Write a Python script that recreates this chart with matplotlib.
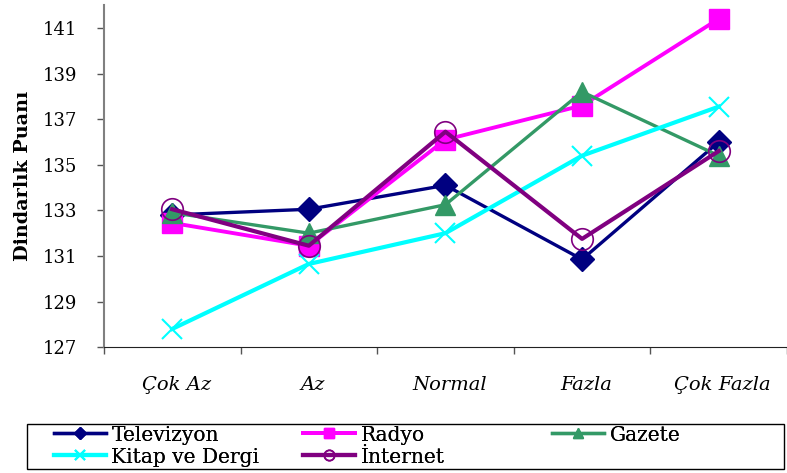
import matplotlib
matplotlib.use("Agg")
import matplotlib.pyplot as plt
from matplotlib.patches import Rectangle
import numpy as np

# Categories and series
categories = ['Çok Az', 'Az', 'Normal', 'Fazla', 'Çok Fazla']
televizyon = [132.8, 133.05, 134.1, 130.85, 136.0]
radyo = [132.45, 131.45, 136.1, 137.6, 141.4]
gazete = [132.9, 132.0, 133.25, 138.2, 135.4]
kitap_dergi = [127.8, 130.65, 132.0, 135.4, 137.55]
internet = [133.05, 131.45, 136.45, 131.75, 135.6]
yticks = [127, 129, 131, 133, 135, 137, 139, 141]

serif = 'DejaVu Serif'
W, H = 787, 473

fig = plt.figure(figsize=(W / 100, H / 100), dpi=100)
ax = fig.add_axes([0.132, 0.266, 0.868, 0.723])

x = np.arange(len(categories))
l_tv, = ax.plot(x, televizyon, color='#000080', lw=2.4, marker='D', ms=12.5,
                label='Televizyon', zorder=3)
l_ra, = ax.plot(x, radyo, color='#ff00ff', lw=2.8, marker='s', ms=15,
                label='Radyo', zorder=3)
l_ga, = ax.plot(x, gazete, color='#339966', lw=2.4, marker='^', ms=15,
                label='Gazete', zorder=3)
l_ki, = ax.plot(x, kitap_dergi, color='#00ffff', lw=3.0, marker='x', ms=15,
                mew=1.5, label='Kitap ve Dergi', zorder=3)
l_in, = ax.plot(x, internet, color='#800080', lw=3.0, marker='o', ms=15.5,
                mfc='none', mew=1.2, label='İnternet', zorder=4)

ax.set_xlim(-0.5, 4.45)
ax.set_ylim(127, 142)
ax.set_yticks(yticks)
ax.set_yticklabels([str(v) for v in yticks], fontfamily=serif, fontsize=13)
ax.set_xticks(np.arange(-0.5, 5, 1.0))
ax.set_xticklabels([])
ax.tick_params(axis='both', direction='out', length=5, color='#555555', width=1)
ax.tick_params(axis='y', pad=14)

for xi, lab in zip(x, categories):
    ax.text(xi + 0.03, -0.11, lab, transform=ax.get_xaxis_transform(),
            ha='center', va='center', fontfamily=serif, fontstyle='italic',
            fontsize=14)

for s in ['top', 'right']:
    ax.spines[s].set_visible(False)
ax.spines['left'].set_color('#808080')
ax.spines['left'].set_linewidth(1.5)
ax.spines['bottom'].set_color('#222222')

ax.set_ylabel('Dindarlık Puanı', fontfamily=serif, fontweight='bold',
              fontsize=13.8, labelpad=8)

# legend: outer box plus one frameless single-entry legend per slot
fig.patches.append(Rectangle((27 / W, 4 / H), 757 / W, 45 / H,
                             transform=fig.transFigure, fill=False,
                             edgecolor='black', lw=1.0))
slots = [(l_tv, 54, 435), (l_ra, 303, 435), (l_ga, 552, 435),
         (l_ki, 54, 457), (l_in, 303, 457)]
for h, px, py in slots:
    lg = fig.legend([h], [h.get_label()], loc='center left',
                    bbox_to_anchor=(px / W, 1 - py / H), frameon=False,
                    prop={'family': serif, 'size': 14.5},
                    markerscale=0.48, handlelength=2.6, handletextpad=0.25,
                    borderpad=0.0, borderaxespad=0.0)
    fig.add_artist(lg)

fig.savefig('out.png', dpi=100)
